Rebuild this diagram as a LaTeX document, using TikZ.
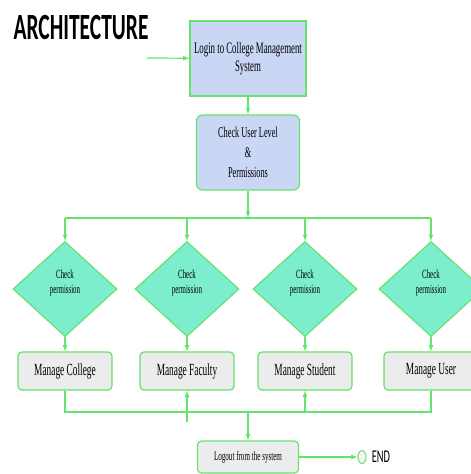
\documentclass[tikz,border=0pt]{standalone}
\usepackage{fontspec}
\usetikzlibrary{shapes.geometric,arrows}
\setmainfont{Liberation Serif}
\newfontfamily\boxfont[FakeStretch=0.55]{Liberation Serif}
\newfontfamily\headfont[FakeStretch=0.58]{Carlito}

\definecolor{flowgreen}{RGB}{102,226,110}
\definecolor{loginblue}{RGB}{201,214,244}
\definecolor{permgreen}{RGB}{125,238,205}
\definecolor{taskgray}{RGB}{235,236,236}

\tikzstyle{block} = [rectangle, draw=flowgreen, line width=1.2pt, fill=loginblue, align=center, font=\boxfont\fontsize{16}{18}\selectfont]
\tikzstyle{decision} = [diamond, draw=flowgreen, line width=1.2pt, fill=permgreen, minimum width=104pt, minimum height=95pt, inner sep=0pt, align=center, font=\boxfont\fontsize{12.5}{15}\selectfont]
\tikzstyle{task} = [rectangle, draw=flowgreen, line width=1.2pt, fill=taskgray, rounded corners=4pt, minimum width=94pt, minimum height=38pt, font=\boxfont\fontsize{17}{18}\selectfont]
\tikzstyle{line} = [draw=flowgreen, -latex, line width=1.2pt]
\tikzstyle{wire} = [draw=flowgreen, line width=1.2pt]

\begin{document}
\begin{tikzpicture}[x=1pt, y=1pt, node distance=94pt]

    \useasboundingbox (0,0) rectangle (471,-474);

    % title
    \node (title) at (81,-28) {\headfont\bfseries\fontsize{37}{37}\selectfont ARCHITECTURE};

    % Login
    \node [block, minimum width=116pt, minimum height=75pt] (login) at (248,-58.5)
            {Login to College Management\\System};
    % user level
    \node [block, below of=login, rounded corners=6pt, minimum width=103pt,
            minimum height=75pt, font=\boxfont\fontsize{15}{20}\selectfont
            ] (level) {Check User Level\\\&\\Permissions};

    % permission checks
    \node [decision] (perm1) at (65,-289) {Check\\permission\\\mbox{}};
    \node [decision, right of=perm1, node distance=122pt] (perm2) {Check\\permission\\\mbox{}};
    \node [decision, right of=perm2, node distance=118pt] (perm3) {Check\\permission\\\mbox{}};
    \node [decision, right of=perm3, node distance=126pt] (perm4) {Check\\permission\\\mbox{}};

    % manage boxes
    \node [task, below of=perm1, node distance=82pt] (college) {Manage College};
    \node [task, below of=perm2, node distance=82pt] (faculty) {Manage Faculty};
    \node [task, below of=perm3, node distance=82pt] (student) {Manage Student};
    \node [task, below of=perm4, node distance=82pt] (user) {Manage User};

    % logout and end
    \node [task, minimum width=101pt, minimum height=32pt,
            font=\boxfont\fontsize{12.9}{15}\selectfont
            ] (logout) at (248,-457) {Logout from the system};
    \node [ellipse, right of=logout, node distance=114pt, draw=flowgreen,
            line width=1pt, fill=taskgray!60, minimum width=8pt,
            minimum height=13pt, inner sep=0pt] (endmark) {};
    \node [right of=endmark, node distance=19pt] (endtext)
            {\headfont\fontsize{18}{18}\selectfont END};

    % bus points
    \coordinate (entry) at (147,-58);
    \coordinate (topbus) at (248,-218);
    \coordinate (lowbus) at (248,-412);
    \coordinate (faclow) at (187,-422);

    % Path
    \path[line] (entry) -- (login);
    \path[line] (login) -- (level);
    \path[line] (level) -- (topbus);
    \path[wire] (perm1.north |- topbus) -- (perm4.north |- topbus);
    \foreach \p in {perm1,perm2,perm3,perm4}
        \path[line] (\p.north |- topbus) -- (\p.north);
    \path[line] (perm1) -- (college);
    \path[line] (perm2) -- (faculty);
    \path[line] (perm3) -- (student);
    \path[line] (perm4) -- (user);

    \path[wire] (college.south) -- (college.south |- lowbus)
            -- (user.south |- lowbus) -- (user.south);
    \path[line] (faculty.south |- faclow) -- (faculty.south);
    \path[line] (student.south |- lowbus) -- (student.south);
    \path[line] (lowbus) -- (logout);
    \path[line] (logout) -- (endmark);

\end{tikzpicture}
\end{document}
